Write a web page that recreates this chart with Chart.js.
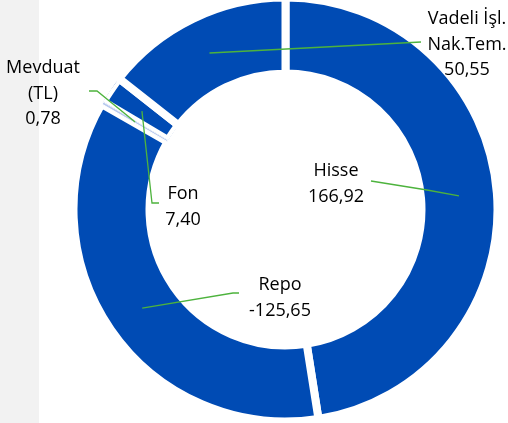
<!DOCTYPE html>
<html><head><meta charset="utf-8">
<script src="https://cdn.jsdelivr.net/npm/chart.js@4"></script>
<style>
html,body{margin:0;padding:0;background:#fff;width:508px;height:423px;overflow:hidden}
#strip{position:absolute;left:0;top:0;width:39px;height:423px;background:#F2F2F2}
#wrap{position:absolute;left:0;top:0;width:508px;height:423px}
</style></head><body>
<div id="strip"></div>
<div id="wrap"><canvas id="c" width="508" height="423"></canvas></div>
<script>
// ---- data ----
const categories = ['Hisse', 'Repo', 'Mevduat (TL)', 'Fon', 'Vadeli İşl. Nak.Tem.'];
const labelLines = [['Hisse'], ['Repo'], ['Mevduat', '(TL)'], ['Fon'], ['Vadeli İşl.', 'Nak.Tem.']];
const values = [166.92, -125.65, 0.78, 7.40, 50.55];

// ---- presentation ----
const DARK = '#004BB4';
const LIGHT = '#B7C8EE';
const LEADER = '#4DB33D';
const FONT = '18px "Open Sans"';
const LINE_H = 25.5;
// label anchor (centre x, first baseline y) and leader bend points, canvas px
const labelPlacement = [
  {x: 336, y: 176, lead: [[371, 181], [427, 190]]},
  {x: 280, y: 290, lead: [[239, 293], [233, 293]]},
  {x: 43,  y: 73,  lead: [[89, 91], [97, 91]]},
  {x: 183, y: 199, lead: [[159, 203], [152, 203]]},
  {x: 467, y: 24,  lead: [[421, 42]]}
];

const fmt = v => v.toFixed(2).replace('.', ',');

const labelPlugin = {
  id: 'leaderLabels',
  afterDatasetsDraw(chart) {
    const ctx = chart.ctx;
    const meta = chart.getDatasetMeta(0);
    ctx.save();
    meta.data.forEach((arc, i) => {
      const p = arc.getCenterPoint();
      const lp = labelPlacement[i];
      ctx.beginPath();
      ctx.strokeStyle = LEADER;
      ctx.lineWidth = 1.3;
      ctx.moveTo(lp.lead[0][0], lp.lead[0][1]);
      for (let k = 1; k < lp.lead.length; k++) ctx.lineTo(lp.lead[k][0], lp.lead[k][1]);
      ctx.lineTo(p.x, p.y);
      ctx.stroke();
    });
    ctx.fillStyle = '#000';
    ctx.font = FONT;
    ctx.textAlign = 'center';
    ctx.textBaseline = 'alphabetic';
    meta.data.forEach((arc, i) => {
      const lp = labelPlacement[i];
      const lines = labelLines[i].concat([fmt(values[i])]);
      lines.forEach((t, k) => ctx.fillText(t, lp.x, lp.y + k * LINE_H));
    });
    ctx.restore();
  }
};

new Chart(document.getElementById('c'), {
  type: 'doughnut',
  data: {
    labels: categories,
    datasets: [{
      data: values.map(v => Math.abs(v)),
      backgroundColor: values.map((v, i) => i === 2 ? LIGHT : DARK),
      borderColor: '#ffffff',
      borderWidth: [8, 8, 0.6, 4, 8],
      borderAlign: ['center', 'center', 'inner', 'inner', 'center'],
      borderJoinStyle: 'miter',
      radius: 212,
      cutout: '64.15%'
    }]
  },
  options: {
    responsive: false,
    animation: false,
    events: [],
    layout: {padding: {left: 63, right: 0, top: 0, bottom: 4}},
    plugins: {legend: {display: false}, tooltip: {enabled: false}}
  },
  plugins: [labelPlugin]
});
</script>
</body></html>
